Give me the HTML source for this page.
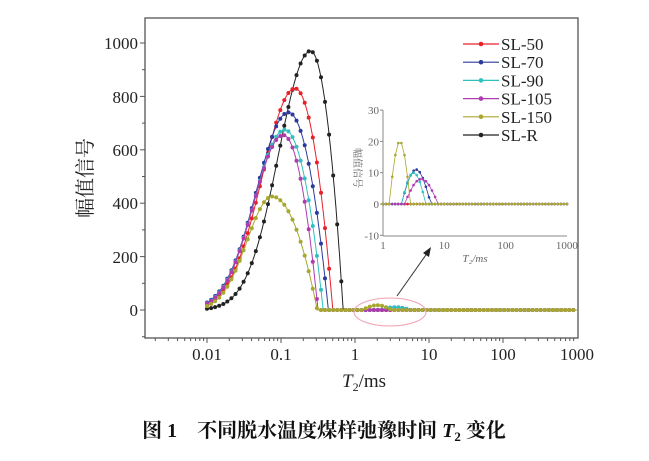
<!DOCTYPE html>
<html><head><meta charset="utf-8"><style>
html,body{margin:0;padding:0;background:#fff;}
svg text{font-family:"Liberation Serif","Noto Serif CJK SC",serif;}
</style></head><body>
<svg id="s" width="649" height="456" viewBox="0 0 649 456" xmlns="http://www.w3.org/2000/svg">
<rect x="145" y="18" width="433" height="320" fill="none" stroke="#555" stroke-width="1.3"/>
<g id="ax" stroke="#555" stroke-width="1"></g>
<g font-size="17" fill="#222" text-anchor="end">
<text x="138" y="49">1000</text><text x="138" y="103">800</text><text x="138" y="156">600</text>
<text x="138" y="209">400</text><text x="138" y="263">200</text><text x="138" y="316">0</text>
</g>
<g font-size="17" fill="#222" text-anchor="middle">
<text x="207" y="360">0.01</text><text x="281" y="360">0.1</text><text x="355" y="360">1</text>
<text x="429" y="360">10</text><text x="503" y="360">100</text><text x="577" y="360">1000</text>
</g>
<text x="364" y="387" font-size="19" text-anchor="middle" fill="#222"><tspan font-style="italic">T</tspan><tspan font-size="12" dy="4">2</tspan><tspan dy="-4">/ms</tspan></text>
<text transform="translate(92,178) rotate(-90)" font-size="20" text-anchor="middle" fill="#222">幅值信号</text>
<g id="curves"></g>
<g id="inset"></g>
<ellipse cx="390" cy="312" rx="36" ry="14" fill="none" stroke="#f0a0b0" stroke-width="1"/>
<line x1="397" y1="296" x2="428" y2="252" stroke="#333" stroke-width="1"/>
<polygon points="431,247 423,253 429,257" fill="#222"/>
<g id="leg" font-size="17" fill="#222"></g>
<text x="324" y="437" font-size="20" text-anchor="middle" fill="#111" font-weight="bold">图 1　不同脱水温度煤样弛豫时间 <tspan font-style="italic">T</tspan><tspan font-size="13" dy="4">2</tspan><tspan dy="-4"> 变化</tspan></text>
</svg>
<script>
var NS="http://www.w3.org/2000/svg";
function el(p,t,a){var e=document.createElementNS(NS,t);for(var k in a)e.setAttribute(k,a[k]);p.appendChild(e);return e;}
var ax=document.getElementById('ax');
function X(l){return 207+74*(l+2);}function Y(v){return 310-v*0.267;}
for(var v=-100;v<=1000;v+=100){var y=Y(v);if(y>18&&y<338)el(ax,'line',{x1:145,x2:v%200==0?140:142,y1:y,y2:y});}
for(var d=-3;d<3;d++)for(var m=1;m<10;m++){var x=X(d+Math.log10(m));if(x>145&&x<578)el(ax,'line',{x1:x,x2:x,y1:338,y2:m==1?343:341});}
var cols={r:'#e8202a',b:'#2b3a9c',c:'#30c0c0',m:'#b03ab0',o:'#a8a830',k:'#222'};
var S=[['k',-0.6,970,0.43,0,-0.16],['r',-0.81,830,0.44,0,-0.3],['b',-0.9,740,0.43,0,-0.36],['c',-0.95,675,0.41,0,-0.43],['m',-0.97,655,0.40,0,-0.5],['o',-1.12,425,0.34,0,-0.51]];
var g=document.getElementById('curves');
function f(s,l){if(l<s[1])return s[2]*Math.exp(-Math.pow(l-s[1],2)/(2*s[3]*s[3]));var w=s[5]-s[1],d=(l-s[1])/w;return d>=1?0:s[2]*(1-d*d);}
S.forEach(function(s){var pts=[],lp=[];
for(var l=-2;l<=3.001;l+=0.055){var v=f(s,l);
if(s[0]=='o'&&l>0.1&&l<0.5)v=18*Math.sin((l-0.1)/0.4*Math.PI);
if((s[0]=='b'||s[0]=='c')&&l>0.35&&l<0.75)v=10*Math.sin((l-0.35)/0.4*Math.PI);
pts.push(X(l).toFixed(1)+','+Y(v).toFixed(1));}
for(var l=-2;l<=3.001;l+=0.01){var v=f(s,l);
if(s[0]=='o'&&l>0.1&&l<0.5)v=18*Math.sin((l-0.1)/0.4*Math.PI);
if((s[0]=='b'||s[0]=='c')&&l>0.35&&l<0.75)v=10*Math.sin((l-0.35)/0.4*Math.PI);
lp.push(X(l).toFixed(1)+','+Y(v).toFixed(1));}
el(g,'polyline',{points:lp.join(' '),fill:'none',stroke:cols[s[0]],'stroke-width':1});
pts.forEach(function(p){var q=p.split(',');el(g,'circle',{cx:q[0],cy:q[1],r:2,fill:cols[s[0]]});});});
var ig=document.getElementById('inset');
function IX(l){return 383+61.3*l;}function IY(v){return 204-v*3.13;}
el(ig,'line',{x1:383,y1:110,x2:383,y2:236,stroke:'#888'});el(ig,'line',{x1:383,y1:236,x2:567,y2:236,stroke:'#888'});
[[30,'30'],[20,'20'],[10,'10'],[0,'0'],[-10,'-10']].forEach(function(t){el(ig,'line',{x1:380,x2:383,y1:IY(t[0]),y2:IY(t[0]),stroke:'#888'});var e=el(ig,'text',{x:379,y:IY(t[0])+4,'font-size':11,'text-anchor':'end',fill:'#666'});e.textContent=t[1];});
[['1',0],['10',1],['100',2],['1000',3]].forEach(function(t){var e=el(ig,'text',{x:IX(t[1]),y:249,'font-size':11,'text-anchor':'middle',fill:'#666'});e.textContent=t[0];});
var tt=el(ig,'text',{x:475,y:262,'font-size':11,'text-anchor':'middle',fill:'#666','font-style':'italic'});tt.textContent='T₂/ms';
var yt=el(ig,'text',{transform:'translate(354,168) rotate(90)','font-size':10,'text-anchor':'middle',fill:'#666'});yt.textContent='幅值信号';
var IS=[['k',0,0,0],['r',0.3,0.78,0],['b',0.3,0.78,11],['c',0.3,0.7,10],['m',0.35,0.9,8],['o',0.1,0.45,20]];
IS.forEach(function(s){var pts=[];for(var l=0;l<=3.001;l+=0.05){var v=0;if(l>s[1]&&l<s[2])v=s[3]*Math.sin((l-s[1])/(s[2]-s[1])*Math.PI);pts.push(IX(l).toFixed(1)+','+IY(v).toFixed(1));}
el(ig,'polyline',{points:pts.join(' '),fill:'none',stroke:cols[s[0]],'stroke-width':0.8});
pts.forEach(function(p){var q=p.split(',');el(ig,'circle',{cx:q[0],cy:q[1],r:1.3,fill:cols[s[0]]});});});
var lg=document.getElementById('leg');
[['r','SL-50'],['b','SL-70'],['c','SL-90'],['m','SL-105'],['o','SL-150'],['k','SL-R']].forEach(function(t,i){var y=44+18.2*i;
el(lg,'line',{x1:463,x2:499,y1:y,y2:y,stroke:cols[t[0]],'stroke-width':1.2});el(lg,'circle',{cx:481,cy:y,r:2.3,fill:cols[t[0]]});
var e=el(lg,'text',{x:501,y:y+6});e.textContent=t[1];});
</script>
</body></html>
